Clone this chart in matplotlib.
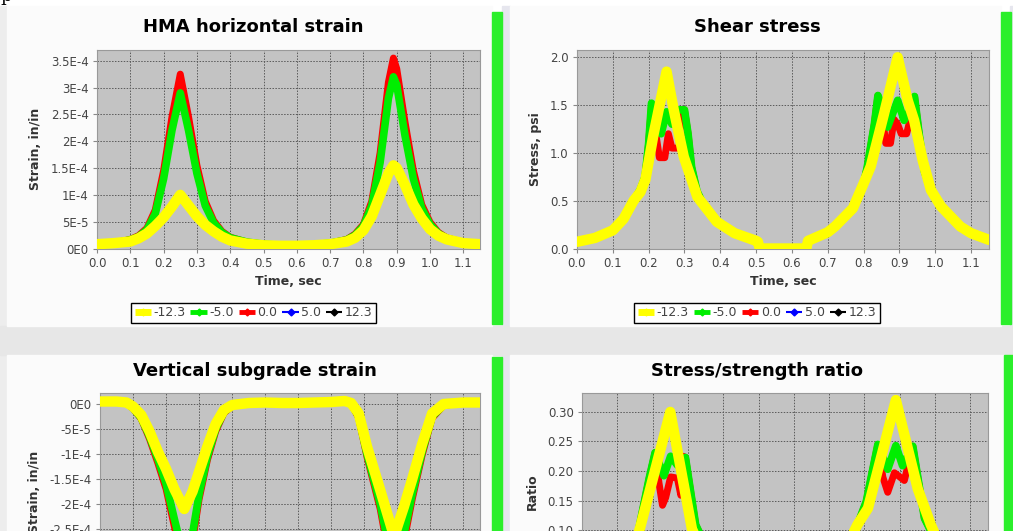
import matplotlib
matplotlib.use("Agg")
import matplotlib.pyplot as plt
from matplotlib.lines import Line2D
from matplotlib.patches import Rectangle

# ---- data ----
series_names = ["-12.3", "-5.0", "0.0", "5.0", "12.3"]
series_colors = ["#ffff00", "#00ee00", "#ff0000", "#0000ff", "#000000"]

# HMA horizontal strain (in/in)
hma_time = [0.0, 0.05, 0.1, 0.125, 0.15, 0.175, 0.2, 0.225, 0.25, 0.275, 0.3, 0.325,
            0.35, 0.375, 0.4, 0.45, 0.5, 0.55, 0.6, 0.65, 0.7, 0.75, 0.775, 0.8, 0.825,
            0.85, 0.875, 0.89, 0.9, 0.925, 0.95, 0.975, 1.0, 1.025, 1.05, 1.1, 1.15]
hma_m123 = [0.8e-5, 1.0e-5, 1.3e-5, 1.9e-5, 2.8e-5, 4.2e-5, 5.8e-5, 7.8e-5, 1.0e-4, 8.0e-5,
            6.0e-5, 4.4e-5, 3.2e-5, 2.2e-5, 1.5e-5, 0.9e-5, 0.6e-5, 0.5e-5, 0.5e-5, 0.6e-5,
            0.8e-5, 1.3e-5, 2.0e-5, 3.4e-5, 6.0e-5, 1.0e-4, 1.4e-4, 1.55e-4, 1.5e-4, 1.18e-4,
            8.2e-5, 5.6e-5, 3.6e-5, 2.4e-5, 1.7e-5, 1.0e-5, 0.8e-5]
hma_m50 = [0.8e-5, 1.0e-5, 1.6e-5, 2.2e-5, 3.5e-5, 6.5e-5, 1.3e-4, 2.2e-4, 2.9e-4, 2.2e-4,
           1.4e-4, 8.0e-5, 4.8e-5, 3.0e-5, 2.0e-5, 1.2e-5, 0.8e-5, 0.6e-5, 0.6e-5, 0.7e-5,
           1.0e-5, 1.6e-5, 2.5e-5, 4.2e-5, 8.0e-5, 1.6e-4, 2.8e-4, 3.2e-4, 3.05e-4, 2.1e-4,
           1.3e-4, 7.5e-5, 4.5e-5, 2.8e-5, 1.9e-5, 1.1e-5, 0.8e-5]
hma_00 = [0.8e-5, 1.0e-5, 1.7e-5, 2.4e-5, 3.8e-5, 7.2e-5, 1.45e-4, 2.45e-4, 3.25e-4, 2.45e-4,
          1.55e-4, 8.8e-5, 5.2e-5, 3.2e-5, 2.1e-5, 1.2e-5, 0.8e-5, 0.6e-5, 0.6e-5, 0.7e-5,
          1.0e-5, 1.7e-5, 2.7e-5, 4.5e-5, 8.8e-5, 1.78e-4, 3.1e-4, 3.55e-4, 3.35e-4, 2.35e-4,
          1.45e-4, 8.2e-5, 4.9e-5, 3.0e-5, 2.0e-5, 1.1e-5, 0.8e-5]
hma_p50 = hma_m50
hma_p123 = hma_m123

# Shear stress (psi)
shear_time_y = [0.0, 0.05, 0.1, 0.13, 0.158, 0.177, 0.191, 0.214, 0.25, 0.27, 0.298, 0.336,
                0.39, 0.44, 0.5, 0.505, 0.51, 0.64, 0.645, 0.7, 0.72, 0.77, 0.8, 0.82, 0.857,
                0.895, 0.923, 0.941, 0.965, 0.988, 1.016, 1.07, 1.1, 1.15]
shear_m123 = [0.07, 0.11, 0.19, 0.31, 0.50, 0.59, 0.72, 1.2, 1.85, 1.45, 0.96, 0.54,
              0.28, 0.16, 0.08, 0.07, 0.0, 0.0, 0.08, 0.17, 0.23, 0.42, 0.68, 0.86, 1.41,
              2.0, 1.55, 1.34, 0.92, 0.61, 0.44, 0.23, 0.16, 0.09]
shear_time_g = [0.0, 0.05, 0.1, 0.13, 0.158, 0.177, 0.19, 0.2, 0.208, 0.215, 0.235, 0.25,
                0.265, 0.28, 0.3, 0.31, 0.32, 0.335, 0.35, 0.39, 0.44, 0.5, 0.505, 0.51,
                0.64, 0.645, 0.7, 0.72, 0.77, 0.8, 0.81, 0.83, 0.84, 0.855, 0.867, 0.88,
                0.895, 0.913, 0.93, 0.942, 0.955, 0.97, 0.99, 1.016, 1.07, 1.1, 1.15]
shear_m50 = [0.07, 0.11, 0.19, 0.31, 0.50, 0.62, 0.75, 1.1, 1.52, 1.45, 1.2, 1.43,
             1.3, 1.45, 1.45, 1.2, 0.85, 0.6, 0.48, 0.29, 0.16, 0.08, 0.07, 0.0,
             0.0, 0.08, 0.17, 0.23, 0.43, 0.68, 0.85, 1.3, 1.6, 1.45, 1.27, 1.4,
             1.55, 1.34, 1.45, 1.59, 1.2, 0.8, 0.6, 0.44, 0.23, 0.16, 0.09]
shear_time_r = [0.0, 0.05, 0.1, 0.13, 0.158, 0.177, 0.19, 0.2, 0.208, 0.215, 0.222, 0.23,
                0.245, 0.255, 0.265, 0.285, 0.29, 0.3, 0.31, 0.32, 0.335, 0.35, 0.39, 0.44,
                0.5, 0.505, 0.51, 0.64, 0.645, 0.7, 0.72, 0.77, 0.8, 0.81, 0.83, 0.84,
                0.855, 0.862, 0.875, 0.885, 0.895, 0.905, 0.92, 0.93, 0.942, 0.955, 0.97,
                0.99, 1.016, 1.07, 1.1, 1.15]
shear_00 = [0.07, 0.11, 0.19, 0.31, 0.50, 0.62, 0.75, 1.1, 1.5, 1.3, 1.15, 0.95,
            0.95, 1.2, 1.05, 1.05, 1.45, 1.45, 1.2, 0.85, 0.6, 0.48, 0.29, 0.16,
            0.08, 0.07, 0.0, 0.0, 0.08, 0.17, 0.23, 0.43, 0.68, 0.85, 1.3, 1.6,
            1.3, 1.1, 1.1, 1.35, 1.3, 1.2, 1.2, 1.35, 1.59, 1.2, 0.8,
            0.6, 0.44, 0.23, 0.16, 0.09]

# Vertical subgrade strain (in/in)
vert_time = [0.0, 0.05, 0.08, 0.1, 0.125, 0.15, 0.175, 0.2, 0.225, 0.255, 0.28, 0.3, 0.325,
             0.35, 0.375, 0.4, 0.45, 0.5, 0.55, 0.6, 0.65, 0.7, 0.74, 0.76, 0.783, 0.808,
             0.848, 0.89, 0.92, 0.945, 0.975, 1.005, 1.04, 1.1, 1.15]
vert_m123 = [0.5e-5, 0.5e-5, 0.3e-5, -0.5e-5, -2.2e-5, -5.5e-5, -9.5e-5, -1.3e-4, -1.7e-4,
             -2.1e-4, -1.75e-4, -1.35e-4, -8.5e-5, -4.0e-5, -1.2e-5, -0.2e-5, 0.2e-5, 0.3e-5,
             0.2e-5, 0.2e-5, 0.3e-5, 0.4e-5, 0.6e-5, 0.2e-5, -1.9e-5, -8.5e-5, -1.72e-4,
             -2.65e-4, -2.05e-4, -1.5e-4, -8.0e-5, -1.9e-5, 0.0, 0.3e-5, 0.3e-5]
vert_m50 = [0.5e-5, 0.5e-5, 0.2e-5, -0.8e-5, -2.8e-5, -6.5e-5, -1.1e-4, -1.6e-4, -2.3e-4,
            -3.1e-4, -2.6e-4, -1.8e-4, -1.05e-4, -5.0e-5, -1.6e-5, -0.3e-5, 0.2e-5, 0.3e-5,
            0.2e-5, 0.2e-5, 0.3e-5, 0.4e-5, 0.5e-5, 0.1e-5, -2.5e-5, -1.0e-4, -2.0e-4,
            -3.4e-4, -2.6e-4, -1.8e-4, -9.5e-5, -2.5e-5, -0.2e-5, 0.3e-5, 0.3e-5]
vert_00 = [0.5e-5, 0.5e-5, 0.2e-5, -0.9e-5, -3.0e-5, -7.0e-5, -1.18e-4, -1.7e-4, -2.45e-4,
           -3.3e-4, -2.75e-4, -1.9e-4, -1.12e-4, -5.5e-5, -1.8e-5, -0.4e-5, 0.2e-5, 0.3e-5,
           0.2e-5, 0.2e-5, 0.3e-5, 0.4e-5, 0.5e-5, 0.1e-5, -2.8e-5, -1.06e-4, -2.1e-4,
           -3.6e-4, -2.75e-4, -1.9e-4, -1.02e-4, -2.8e-5, -0.3e-5, 0.3e-5, 0.3e-5]
vert_p50 = vert_m50
vert_p123 = vert_m123

# Stress/strength ratio
ratio_time_y = [0.0, 0.05, 0.1, 0.13, 0.155, 0.165, 0.25, 0.312, 0.34, 0.39, 0.44, 0.5,
                0.505, 0.51, 0.64, 0.645, 0.7, 0.72, 0.78, 0.81, 0.889, 0.951, 0.988,
                1.016, 1.07, 1.1, 1.15]
ratio_m123 = [0.012, 0.018, 0.032, 0.05, 0.085, 0.105, 0.30, 0.10, 0.075, 0.045, 0.026,
              0.012, 0.011, 0.0, 0.0, 0.013, 0.028, 0.037, 0.109, 0.137, 0.32, 0.17, 0.109,
              0.072, 0.038, 0.026, 0.015]
ratio_time_g = [0.0, 0.05, 0.1, 0.13, 0.155, 0.19, 0.207, 0.232, 0.251, 0.27, 0.293, 0.322,
                0.345, 0.39, 0.44, 0.5, 0.505, 0.51, 0.64, 0.645, 0.7, 0.72, 0.78, 0.805,
                0.838, 0.866, 0.889, 0.908, 0.937, 0.97, 0.995, 1.016, 1.07, 1.1, 1.15]
ratio_m50 = [0.012, 0.018, 0.032, 0.05, 0.085, 0.187, 0.231, 0.192, 0.225, 0.21, 0.223,
             0.109, 0.08, 0.046, 0.026, 0.012, 0.011, 0.0, 0.0, 0.013, 0.028, 0.037, 0.109,
             0.148, 0.245, 0.203, 0.243, 0.209, 0.242, 0.12, 0.09, 0.072, 0.038, 0.026, 0.015]
ratio_time_r = [0.0, 0.05, 0.1, 0.13, 0.155, 0.19, 0.207, 0.218, 0.228, 0.237, 0.251, 0.27,
                0.28, 0.286, 0.293, 0.322, 0.345, 0.39, 0.44, 0.5, 0.505, 0.51, 0.64, 0.645,
                0.7, 0.72, 0.78, 0.805, 0.838, 0.852, 0.866, 0.885, 0.913, 0.93, 0.937, 0.97,
                0.995, 1.016, 1.07, 1.1, 1.15]
ratio_00 = [0.012, 0.018, 0.032, 0.05, 0.085, 0.187, 0.231, 0.18, 0.142, 0.155, 0.19, 0.188,
            0.159, 0.225, 0.223, 0.109, 0.08, 0.046, 0.026, 0.012, 0.011, 0.0, 0.0, 0.013,
            0.028, 0.037, 0.109, 0.148, 0.245, 0.19, 0.164, 0.197, 0.184, 0.225, 0.242, 0.12,
            0.09, 0.072, 0.038, 0.026, 0.015]

x_ticks = [0.0, 0.1, 0.2, 0.3, 0.4, 0.5, 0.6, 0.7, 0.8, 0.9, 1.0, 1.1]
x_ticklabels = ["0.0", "0.1", "0.2", "0.3", "0.4", "0.5", "0.6", "0.7", "0.8", "0.9", "1.0", "1.1"]
hma_yticks = [0, 5e-5, 1e-4, 1.5e-4, 2e-4, 2.5e-4, 3e-4, 3.5e-4]
hma_ylabels = ["0E0", "5E-5", "1E-4", "1.5E-4", "2E-4", "2.5E-4", "3E-4", "3.5E-4"]
shear_yticks = [0.0, 0.5, 1.0, 1.5, 2.0]
shear_ylabels = ["0.0", "0.5", "1.0", "1.5", "2.0"]
vert_yticks = [0, -5e-5, -1e-4, -1.5e-4, -2e-4, -2.5e-4, -3e-4, -3.5e-4]
vert_ylabels = ["0E0", "-5E-5", "-1E-4", "-1.5E-4", "-2E-4", "-2.5E-4", "-3E-4", "-3.5E-4"]
ratio_yticks = [0.0, 0.05, 0.10, 0.15, 0.20, 0.25, 0.30]
ratio_ylabels = ["0.00", "0.05", "0.10", "0.15", "0.20", "0.25", "0.30"]

W, H = 1013, 531
fig = plt.figure(figsize=(W / 100, H / 100), dpi=100, facecolor="white")
plt.rcParams["font.family"] = ["DejaVu Sans"]


def rect(l, t, r, b, color):
    fig.patches.append(Rectangle((l / W, 1 - b / H), (r - l) / W, (b - t) / H,
                                 transform=fig.transFigure, color=color, zorder=-10))


def px_axes(l, t, r, b):
    ax = fig.add_axes([l / W, 1 - b / H, (r - l) / W, (b - t) / H])
    ax.set_zorder(5)
    return ax


# page background, panels and green side bars
rect(0, 6, 7, 531, "#ededed")
rect(502, 6, 510, 531, "#e6e6ee")
rect(1010, 6, 1013, 531, "#e6e6ee")
rect(0, 326, 1013, 355, "#e7e7e7")
rect(7, 6, 492, 326, "#fbfbfb")
rect(510, 6, 1001, 326, "#fbfbfb")
rect(7, 355, 492, 531, "#fbfbfb")
rect(510, 355, 1004, 531, "#fbfbfb")
rect(492, 12, 502, 324, "#2bef2b")
rect(1001, 12, 1011, 324, "#2bef2b")
rect(492, 357, 502, 531, "#2bef2b")
rect(1004, 355, 1013, 531, "#2bef2b")
fig.text(0.0, 1 - 1 / H, "p", family="DejaVu Serif", fontsize=13, va="baseline", ha="left")

widths = [7.5, 5.5, 5.0, 2.5, 2.5]


def style(ax, ylim, yticks, ylabels):
    ax.set_facecolor("#c3c3c3")
    ax.set_xlim(0, 1.15)
    ax.set_ylim(*ylim)
    ax.set_xticks(x_ticks)
    ax.set_xticklabels(x_ticklabels)
    ax.set_yticks(yticks)
    ax.set_yticklabels(ylabels)
    ax.grid(True, color="#5a5a5a", linestyle=(0, (1.5, 1.5)), linewidth=0.7)
    ax.set_axisbelow(True)
    ax.tick_params(length=3, color="#888888", labelcolor="#444444", labelsize=8.5, pad=3)
    for s in ax.spines.values():
        s.set_color("#999999")
        s.set_linewidth(0.8)


def draw(ax, xs, ys):
    # JFreeChart renders series in reverse order, so the first series ends on top
    for i in range(4, -1, -1):
        ax.plot(xs[i], ys[i], color=series_colors[i], lw=widths[i],
                solid_joinstyle="round", solid_capstyle="round", zorder=3 + (4 - i))


def legend(ax, cx, cy):
    handles = [Line2D([], [], color=c, lw=w, marker="D", markersize=3.5,
                      solid_capstyle="butt")
               for c, w in zip(series_colors, [5, 3.5, 3.5, 1.5, 1.5])]
    leg = ax.legend(handles, series_names, loc="center", ncol=5,
                    bbox_to_anchor=(cx / W, 1 - cy / H), bbox_transform=fig.transFigure,
                    fancybox=False, edgecolor="black", framealpha=1, fontsize=9,
                    handlelength=1.3, handletextpad=0.2, columnspacing=0.4,
                    borderpad=0.3, borderaxespad=0)
    leg.get_frame().set_linewidth(1.0)
    for t in leg.get_texts():
        t.set_color("#444444")


title_kw = dict(fontsize=13, fontweight="bold", ha="center", va="center", color="black")
lab_kw = dict(fontsize=9, fontweight="bold", color="#333333")

# HMA horizontal strain
ax1 = px_axes(97, 50, 480, 248.5)
style(ax1, (0, 3.7e-4), hma_yticks, hma_ylabels)
draw(ax1, [hma_time] * 5, [hma_m123, hma_m50, hma_00, hma_p50, hma_p123])
ax1.set_xlabel("Time, sec", **lab_kw, labelpad=4)
ax1.set_ylabel("Strain, in/in", **lab_kw, labelpad=6)
fig.text(253 / W, 1 - 27 / H, "HMA horizontal strain", **title_kw)
legend(ax1, 253.5, 313)

# Shear stress
ax2 = px_axes(577, 50, 989, 248.5)
style(ax2, (0, 2.076), shear_yticks, shear_ylabels)
draw(ax2, [shear_time_y, shear_time_g, shear_time_r, shear_time_g, shear_time_y],
     [shear_m123, shear_m50, shear_00, shear_m50, shear_m123])
ax2.set_xlabel("Time, sec", **lab_kw, labelpad=4)
ax2.set_ylabel("Stress, psi", **lab_kw, labelpad=6)
fig.text(757 / W, 1 - 27 / H, "Shear stress", **title_kw)
legend(ax2, 757, 313)

# Vertical subgrade strain (lower part runs off the screenshot)
ax3 = px_axes(100, 393, 480, 591)
style(ax3, (-3.74e-4, 2.2e-5), vert_yticks, vert_ylabels)
ax3.tick_params(labelbottom=False)
draw(ax3, [vert_time] * 5, [vert_m123, vert_m50, vert_00, vert_p50, vert_p123])
ax3.set_ylabel("Strain, in/in", **lab_kw, labelpad=6)
fig.text(255 / W, 1 - 371 / H, "Vertical subgrade strain", **title_kw)

# Stress/strength ratio
ax4 = px_axes(582, 393, 988, 591)
style(ax4, (-0.003, 0.332), ratio_yticks, ratio_ylabels)
ax4.tick_params(labelbottom=False)
draw(ax4, [ratio_time_y, ratio_time_g, ratio_time_r, ratio_time_g, ratio_time_y],
     [ratio_m123, ratio_m50, ratio_00, ratio_m50, ratio_m123])
ax4.set_ylabel("Ratio", **lab_kw, labelpad=6)
fig.text(757 / W, 1 - 371 / H, "Stress/strength ratio", **title_kw)

fig.savefig("out.png", dpi=100)
